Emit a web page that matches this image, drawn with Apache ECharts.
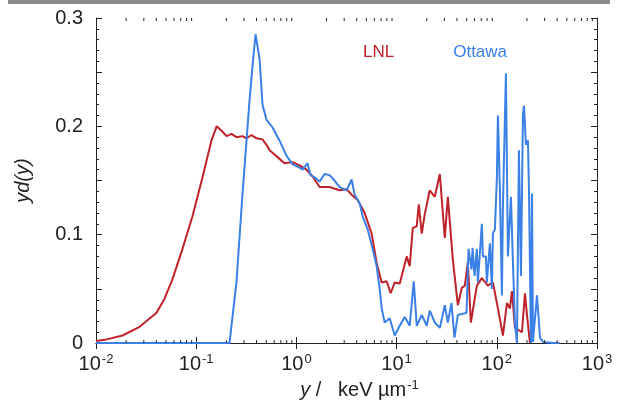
<!DOCTYPE html>
<html>
<head>
<meta charset="utf-8">
<script src="https://cdn.jsdelivr.net/npm/echarts@6/dist/echarts.min.js"></script>
<style>html,body{margin:0;padding:0;background:#fff;}#c{width:619px;height:405px;}</style>
</head>
<body>
<div id="c"></div>
<script>
// ---- data ----
const lnlX = [0.0100,0.0122,0.0184,0.0272,0.0402,0.0483,0.0580,0.0730,0.0918,0.1156,0.142,0.160,0.179,0.201,0.225,0.252,0.290,0.318,0.356,0.400,0.459,0.503,0.540,0.605,0.678,0.761,0.914,1.074,1.262,1.449,1.702,2.143,2.698,3.170,3.557,4.084,4.798,5.637,6.325,7.097,7.963,8.732,9.575,10.75,12.62,13.52,14.49,15.89,16.64,17.83,19.10,21.43,24.05,26.99,30.28,32.45,36.41,40.85,44.79,47.99,51.42,55.10,63.26,70.97,81.48,91.42,102.6,115.1,126.2,135.2,141.6,151.7,178.2,190.9,200.0,214.3];
const lnlY = [0.002,0.003,0.007,0.015,0.028,0.041,0.059,0.087,0.117,0.153,0.187,0.200,0.196,0.191,0.193,0.190,0.191,0.189,0.192,0.189,0.188,0.183,0.178,0.174,0.170,0.166,0.167,0.164,0.160,0.154,0.144,0.144,0.141,0.142,0.137,0.132,0.120,0.101,0.074,0.056,0.057,0.046,0.056,0.055,0.080,0.071,0.106,0.108,0.128,0.101,0.119,0.141,0.135,0.156,0.097,0.135,0.077,0.035,0.051,0.053,0.075,0.019,0.053,0.060,0.053,0.056,0.032,0.007,0.037,0.032,0.048,0.014,0.010,0.046,0.026,0.000];

const ottX = [0.0100,0.215,0.252,0.290,0.340,0.365,0.391,0.429,0.459,0.503,0.578,0.678,0.796,0.914,1.026,1.151,1.291,1.384,1.518,1.702,1.910,2.143,2.404,2.698,3.170,3.557,3.811,4.276,4.582,5.141,5.768,6.325,6.776,7.097,7.604,8.532,9.575,10.75,12.05,13.52,14.83,15.89,17.83,20.00,21.43,24.05,26.99,30.28,32.45,35.3,37.8,40.85,45.5,49.9,52.2,56.0,57.3,60.0,63.26,64.7,70.97,72.6,77.8,79.6,85.3,89.3,91.42,95.7,100.2,102.6,107.4,112.5,115.1,123.3,129.1,138.4,144.9,151.7,158.9,166.3,174.2,182.4,186.6,195.4,204.6,209.4,219.3,224.4,229.6,251.8,269.8,289.1,363.9,420.0];
const ottY = [0.000,0.000,0.056,0.138,0.223,0.256,0.285,0.262,0.220,0.206,0.199,0.187,0.173,0.165,0.163,0.160,0.166,0.155,0.153,0.149,0.156,0.155,0.150,0.144,0.141,0.151,0.137,0.129,0.117,0.105,0.087,0.071,0.050,0.032,0.019,0.023,0.007,0.016,0.024,0.016,0.057,0.016,0.026,0.016,0.030,0.019,0.014,0.035,0.019,0.037,0.005,0.026,0.027,0.028,0.087,0.068,0.088,0.062,0.087,0.056,0.110,0.080,0.080,0.056,0.092,0.050,0.101,0.105,0.153,0.210,0.141,0.044,0.126,0.249,0.080,0.135,0.074,0.019,0.000,0.178,0.062,0.211,0.219,0.183,0.187,0.141,0.000,0.138,0.001,0.044,0.005,0.001,0.000,0.000];

const xMin = 0.01, xMax = 1000;
const xDecades = [0.01, 0.1, 1, 10, 100];
const xMinorMultipliers = [2,3,4,5,6,7,8,9];
const yTickLabels = ['0', '0.1', '0.2', '0.3'];
const seriesNames = ['LNL', 'Ottawa'];

// ---- styling ----
const RED = '#c0222a', BLUE = '#3a80e6', INK = '#222';
const FONT = 'Liberation Sans, Arial, sans-serif';
const FS = 20, SUP = 13;

const minorTicks = [];
xDecades.forEach(d => xMinorMultipliers.forEach(m => minorTicks.push([d * m])));

const chart = echarts.init(document.getElementById('c'), null, {renderer: 'canvas'});

function pairs(xs, ys) { return xs.map((x, i) => [x, ys[i]]); }

const supStyle = {fontSize: SUP, fontFamily: FONT, color: INK, verticalAlign: 'top', padding: [0, 0, 9, 1]};

const option = {
  animation: false,
  backgroundColor: '#fff',
  textStyle: {fontFamily: FONT},
  graphic: [
    {type: 'rect', shape: {x: 8, y: 0, width: 602, height: 4}, style: {fill: '#8c8c8c'}, silent: true}
  ],
  legend: {
    left: 353, top: 39, itemGap: 54, itemWidth: 0, itemHeight: 0, icon: 'none',
    selectedMode: false,
    textStyle: {fontSize: 17, fontFamily: FONT},
    data: [
      {name: seriesNames[0], textStyle: {color: RED}},
      {name: seriesNames[1], textStyle: {color: BLUE}}
    ]
  },
  grid: {left: 96, right: 22, top: 18, bottom: 58, containLabel: false},
  xAxis: [{
    type: 'log', logBase: 10, min: xMin, max: xMax, position: 'bottom',
    axisLine: {show: true, lineStyle: {color: INK, width: 1}},
    axisTick: {show: true, inside: true, length: 6, lineStyle: {color: INK}},
    splitLine: {show: false},
    axisLabel: {
      margin: 10, color: INK, fontSize: FS, fontFamily: FONT,
      formatter: v => '{b|10}{s|' + Math.round(Math.log10(v)) + '}',
      rich: {b: {fontSize: FS, fontFamily: FONT, color: INK}, s: supStyle}
    },
    name: '{i|y} /   keV µm{s|-1}', nameLocation: 'middle', nameGap: 28,
    nameTextStyle: {
      fontSize: FS, color: INK, fontFamily: FONT, padding: [0, 0, 0, 26],
      rich: {i: {fontStyle: 'italic', fontSize: FS, fontFamily: FONT, color: INK}, s: supStyle}
    }
  }, {
    type: 'log', logBase: 10, min: xMin, max: xMax, position: 'top',
    axisLine: {show: true, lineStyle: {color: INK, width: 1}},
    axisTick: {show: true, inside: true, length: 6, lineStyle: {color: INK}},
    axisLabel: {show: false}, splitLine: {show: false}
  }],
  yAxis: [{
    type: 'value', min: 0, max: 0.3, interval: 0.05, position: 'left',
    axisLine: {show: true, lineStyle: {color: INK, width: 1}},
    axisTick: {show: true, inside: true, length: 6, lineStyle: {color: INK}},
    minorTick: {show: true, splitNumber: 5, length: 3, lineStyle: {color: INK}},
    splitLine: {show: false},
    axisLabel: {
      margin: 13, color: INK, fontSize: FS, fontFamily: FONT,
      formatter: v => { const k = Math.round(v * 20); return k % 2 === 0 ? yTickLabels[k / 2] : ''; }
    },
    name: 'yd(y)', nameLocation: 'middle', nameGap: 63, nameRotate: 90,
    nameTextStyle: {fontSize: FS, fontStyle: 'italic', color: INK, fontFamily: FONT}
  }, {
    type: 'value', min: 0, max: 0.3, interval: 0.05, position: 'right',
    axisLine: {show: true, lineStyle: {color: INK, width: 1}},
    axisTick: {show: true, inside: true, length: 6, lineStyle: {color: INK}},
    minorTick: {show: true, splitNumber: 5, length: 3, lineStyle: {color: INK}},
    splitLine: {show: false}, axisLabel: {show: false}
  }],
  series: [
    {name: seriesNames[0], type: 'line', data: pairs(lnlX, lnlY), showSymbol: false, symbol: 'none',
     lineStyle: {color: RED, width: 2}, itemStyle: {color: RED}, clip: true, z: 3},
    {name: seriesNames[1], type: 'line', data: pairs(ottX, ottY), showSymbol: false, symbol: 'none',
     lineStyle: {color: BLUE, width: 2}, itemStyle: {color: BLUE}, clip: true, z: 4},
    {type: 'custom', silent: true, z: 10, data: minorTicks, clip: false,
     renderItem: (params, api) => {
       const v = api.value(0);
       const b = api.coord([v, 0]);
       const t = api.coord([v, 0.3]);
       return {type: 'group', children: [
         {type: 'line', shape: {x1: b[0], y1: b[1], x2: b[0], y2: b[1] - 3}, style: {stroke: INK, lineWidth: 1}},
         {type: 'line', shape: {x1: t[0], y1: t[1], x2: t[0], y2: t[1] + 3}, style: {stroke: INK, lineWidth: 1}}
       ]};
     }}
  ]
};
chart.setOption(option);
</script>
</body>
</html>
